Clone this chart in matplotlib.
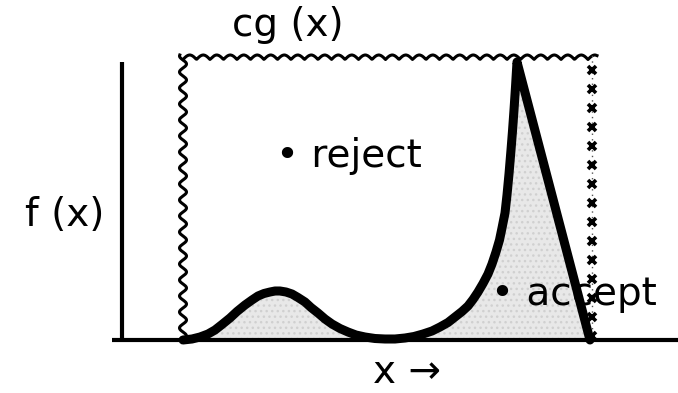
import numpy as np
import matplotlib
matplotlib.use("Agg")
import matplotlib.pyplot as plt

plt.rcParams['font.family'] = ['DejaVu Sans']

# f(x): points (x, height)
fx = [1.22, 1.40, 1.56, 1.72, 1.86, 2.00, 2.16, 2.30, 2.46, 2.60, 2.72, 2.84, 2.96,
      3.06, 3.16, 3.28, 3.40, 3.52, 3.66, 3.78, 3.92, 4.06, 4.20, 4.36, 4.52, 4.68,
      4.86, 5.06, 5.26, 5.46, 5.66, 5.84, 6.02, 6.20, 6.36, 6.52, 6.66, 6.80, 6.92,
      7.02, 7.12, 7.22, 7.32, 7.40, 7.48, 7.55, 7.60, 7.66, 7.70, 7.74, 7.78, 7.81,
      7.84, 7.87, 7.90, 9.36]
fy = [0.00, 0.02, 0.06, 0.12, 0.20, 0.31, 0.44, 0.57, 0.70, 0.80, 0.88, 0.93, 0.96,
      0.98, 0.98, 0.96, 0.92, 0.85, 0.76, 0.65, 0.54, 0.42, 0.32, 0.23, 0.16, 0.10,
      0.06, 0.03, 0.02, 0.02, 0.04, 0.07, 0.12, 0.18, 0.26, 0.35, 0.46, 0.57, 0.68,
      0.81, 0.96, 1.13, 1.32, 1.52, 1.76, 2.00, 2.24, 2.54, 2.90, 3.32, 3.80, 4.18,
      4.60, 5.06, 5.56, 0.00]

# envelope c*g(x): a flat box
cg_level = 5.70
cg_left = 1.22
cg_right = 9.40

fig = plt.figure(figsize=(6.78, 3.93), dpi=100)
ax = fig.add_axes([0, 0, 1, 1])
ax.set_xlim(-2.44, 11.12)
ax.set_ylim(-1.06, 6.8)
ax.axis('off')

# shaded area under f
ax.fill_between(fx, fy, 0, color='#e8e8e8', zorder=1)
ax.fill_between(fx, fy, 0, facecolor='none', edgecolor='#d0d0d0', hatch='...',
                linewidth=0, zorder=1)

# axes lines
ax.plot([0, 0], [0, 5.56], color='black', lw=3, solid_capstyle='butt', zorder=3)
ax.plot([-0.2, 11.12], [0, 0], color='black', lw=3, solid_capstyle='butt', zorder=3)

# wavy top of the envelope
per = 0.27
amp = 0.09
tx = np.linspace(cg_left, cg_right + 0.1, 600)
ty = cg_level - amp + amp * np.abs(np.sin(np.pi * (tx - cg_left) / per))
ax.plot(tx, ty, color='black', lw=2.2, zorder=2)

# wavy left side
ly = np.linspace(0, cg_level, 400)
lx = cg_left + 0.07 * np.sin(2 * np.pi * ly / 0.32)
ax.plot(lx, ly, color='black', lw=2.2, zorder=2)

# right side drawn with little crosses
ry = np.arange(cg_level - 0.3, 0, -0.38)
ax.plot([cg_right, cg_right], [0, cg_level], color='#555555', lw=1.0, ls=(0, (1, 3)), zorder=2)
ax.plot(np.full(len(ry), cg_right), ry, ls='none', marker='x', ms=6, mew=2.6,
        color='black', zorder=2)

# f(x) curve
ax.plot(fx, fy, color='black', lw=6.5, solid_joinstyle='round', solid_capstyle='round',
        zorder=4)

fs = 28
ax.text(3.32, 6.08, 'cg (x)', fontsize=fs, ha='center', va='baseline')
ax.text(-0.36, 2.28, 'f (x)', fontsize=fs, ha='right', va='baseline')
ax.text(3.08, 3.46, '\u2022 reject', fontsize=fs, ha='left', va='baseline')
ax.text(7.38, 0.70, '\u2022 accept', fontsize=fs, ha='left', va='baseline', zorder=5)
ax.text(5.70, -0.86, 'x \u2192', fontsize=fs, ha='center', va='baseline')

fig.savefig('out.png', dpi=100)
